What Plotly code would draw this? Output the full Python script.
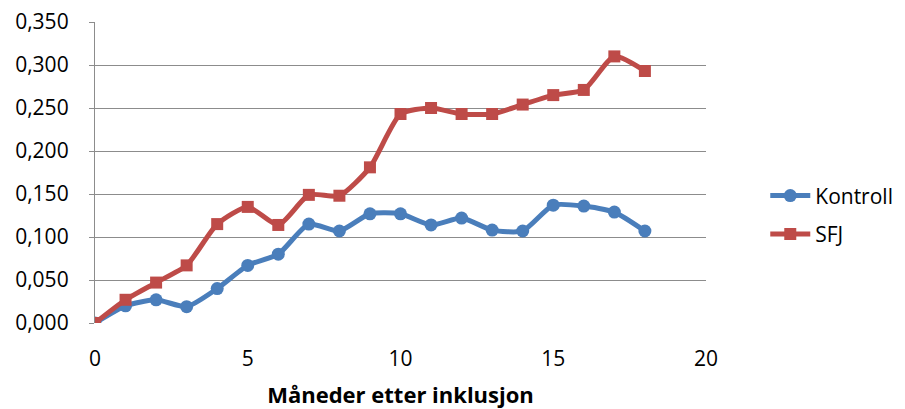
import plotly.graph_objects as go

months = list(range(19))
kontroll = [0.000, 0.020, 0.027, 0.019, 0.040, 0.067, 0.080, 0.115, 0.107, 0.127,
            0.127, 0.114, 0.122, 0.108, 0.107, 0.137, 0.136, 0.129, 0.107]
sfj = [0.000, 0.027, 0.047, 0.067, 0.115, 0.135, 0.114, 0.149, 0.148, 0.181,
       0.243, 0.250, 0.243, 0.243, 0.254, 0.265, 0.271, 0.310, 0.293]
x_ticks = [0, 5, 10, 15, 20]
y_ticks = [0, 0.05, 0.10, 0.15, 0.20, 0.25, 0.30, 0.35]

blue = "#4A7EBB"
red = "#BE4B48"

fig = go.Figure()
fig.add_trace(go.Scatter(x=months, y=kontroll, name="Kontroll", mode="lines+markers",
                         legendgroup="a",
                         line=dict(color=blue, width=5, shape="spline", smoothing=0.6),
                         marker=dict(symbol="circle", size=13, color=blue)))
fig.add_trace(go.Scatter(x=months, y=sfj, name="SFJ", mode="lines+markers",
                         legendgroup="b",
                         line=dict(color=red, width=5, shape="spline", smoothing=0.6),
                         marker=dict(symbol="square", size=12, color=red)))

font = "Open Sans"
fs = 21
fig.update_layout(
    width=897, height=401,
    margin=dict(l=87, r=199, t=14, b=86, autoexpand=False),
    paper_bgcolor="white", plot_bgcolor="white",
    separators=", ",
    font=dict(family=font, size=fs, color="#000000"),
    showlegend=True,
    legend=dict(x=1.097, y=0.359, xanchor="left", yanchor="middle",
                font=dict(family=font, size=21, color="#000000"),
                itemwidth=40, tracegroupgap=8, traceorder="grouped"),
    xaxis=dict(range=[0, 20], tickvals=x_ticks, showgrid=False, zeroline=False,
               showline=False, ticks="", ticklabelstandoff=21, automargin=False,
               title=dict(text="<b>Måneder etter inklusjon</b>",
                          font=dict(family=font, size=22), standoff=20)),
    yaxis=dict(range=[0, 0.35], tickvals=y_ticks, tickformat=".3f", automargin=False,
               ticklabeloverflow="allow",
               showgrid=True, gridcolor="#8C8C8C", gridwidth=1.3,
               zeroline=False, showline=True, linecolor="#8C8C8C", linewidth=1.3,
               ticks="outside", ticklen=5, tickcolor="#8C8C8C", ticklabelstandoff=16),
)
fig.write_html("out.html")
